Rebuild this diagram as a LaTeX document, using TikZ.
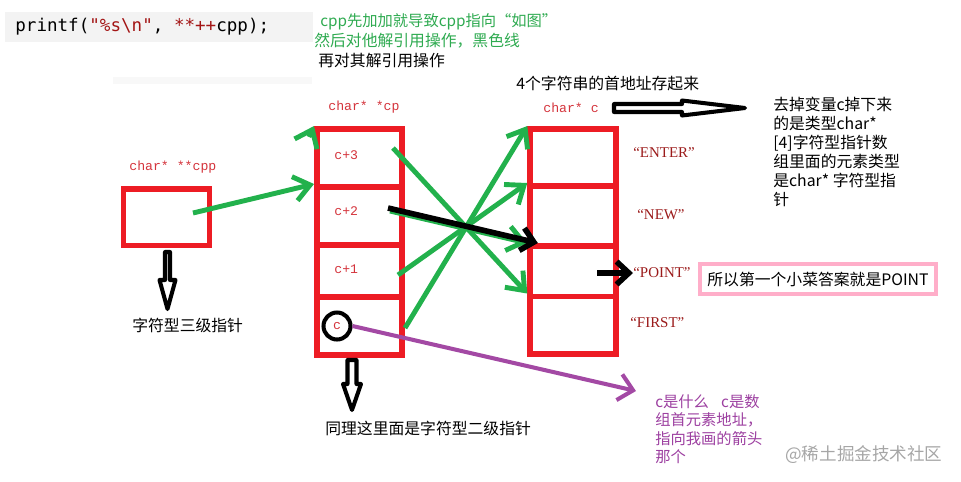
\documentclass[tikz,border=0pt]{standalone}
\usepackage{fontspec}
\usepackage{xcolor}
\usetikzlibrary{arrows.meta,fit}
\newfontfamily\cnfont{Noto Sans CJK SC}
\newfontfamily\lblfont{Liberation Mono}
\newfontfamily\codefont{DejaVu Sans Mono}
\newfontfamily\strfont{Liberation Serif}
\definecolor{boxred}{HTML}{ED1C24}
\definecolor{lblred}{HTML}{D4343C}
\definecolor{strred}{HTML}{9B1B1B}
\definecolor{codered}{HTML}{A31515}
\definecolor{paintgreen}{HTML}{22B14C}
\definecolor{notegreen}{HTML}{2EAA50}
\definecolor{paintpurple}{HTML}{A349A4}
\definecolor{notepurple}{HTML}{9C3FA0}
\definecolor{answerpink}{HTML}{FFAEC9}
\definecolor{codegray}{HTML}{F3F3F3}
\definecolor{fadegray}{HTML}{F8F8F8}
\definecolor{markgray}{HTML}{A6A6A6}

\begin{document}
\begin{tikzpicture}[x=0.02cm, y=-0.02cm,
    cell/.style={draw=boxred, line width=3.4pt, inner sep=0pt},
    lbl/.style={text=lblred, font=\lblfont\fontsize{7.5}{9}\selectfont, inner sep=0pt, anchor=west},
    strlbl/.style={text=strred, font=\strfont\fontsize{8.5}{10}\selectfont, inner sep=0pt, anchor=west},
    note/.style={font=\cnfont\fontsize{9}{10.8}\selectfont, inner sep=0pt, anchor=west},
    garrow/.style={draw=paintgreen, line width=2.8pt, -{Straight Barb[length=9pt,width=14pt]}},
    karrow/.style={draw=black, line width=3.2pt, -{Straight Barb[length=7pt,width=13pt]}},
    parrow/.style={draw=paintpurple, line width=2.3pt, -{Straight Barb[length=8pt,width=15pt]}},
    hollow/.style={draw=black, line width=2.3pt, fill=white, line join=round}]
    \useasboundingbox (0,0) rectangle (961,481);

    % code line
    \fill[codegray] (5,12) rectangle (313,42);
    \fill[fadegray] (113,77) rectangle (312,84);
    \node[anchor=west, inner sep=0pt, font=\codefont\fontsize{10}{12}\selectfont] (code) at (15,27)
        {printf(\textcolor{codered}{"\%s\textbackslash n"}, \textcolor{codered}{**++}cpp);};

    % notes at the top
    \node[note, text=notegreen, font=\cnfont\fontsize{8.7}{10.5}\selectfont] (gt1) at (320,22) {cpp先加加就导致cpp指向“如图”};
    \node[note, text=notegreen] (gt2) at (314,41) {然后对他解引用操作，黑色线};
    \node[note] (bt3) at (318,61) {再对其解引用操作};
    \node[note] (addr) at (516,83) {4个字符串的首地址存起来};
    \node[note, anchor=north west, align=left] (typenote) at (773,97)
        {去掉变量c掉下来\\的是类型char*\\{}[4]字符型指针数\\组里面的元素类型\\是char* 字符型指\\针};

    % char** cpp
    \node[lbl] (cpplbl) at (129,167) {char* **cpp};
    \node[cell, fit={(123.5,189) (209.5,245.5)}] (cpp) {};
    \node[note] (cppnote) at (132,325) {字符型三级指针};
    \draw[hollow] (165,252) -- (165,280) -- (159.5,280) -- (167.5,309) -- (175.5,280)
        -- (170,280) -- (170,252) -- cycle;

    % char* *cp
    \node[lbl] (cplbl) at (328,107) {char* *cp};
    \foreach \i/\ya/\yb in {0/129/187, 1/187/245, 2/245/296.7, 3/296.7/355}
        \node[cell, fit={(317,\ya) (401.7,\yb)}] (cp\i) {};
    \node[lbl] (cp3txt) at (334,155) {c+3};
    \node[lbl] (cp2txt) at (334,211) {c+2};
    \node[lbl] (cp1txt) at (334,269) {c+1};
    \node[lbl, anchor=center, circle, draw=black, text=lblred, line width=2.3pt, minimum size=0.54cm] (cc) at (337,326) {c};
    \node[note] (cpnote) at (325,428) {同理这里面是字符型二级指针};
    \draw[hollow] (347.5,360) -- (347.5,384) -- (343,384) -- (352,410) -- (361,384)
        -- (356.5,384) -- (356.5,360) -- cycle;

    % char* c[4]
    \node[lbl] (clbl) at (543,108) {char* c};
    \draw[hollow] (614,104) -- (682,104) -- (682,100.5) -- (745,108) -- (682,115.5)
        -- (682,112) -- (614,112) -- cycle;
    \foreach \i/\ya/\yb in {0/129/186, 1/186/246, 2/246/296.5, 3/296.5/354}
        \node[cell, fit={(530.3,\ya) (616,\yb)}] (c\i) {};
    \node[strlbl] (senter) at (633,153) {“ENTER”};
    \node[strlbl] (snew) at (637,215) {“NEW”};
    \node[strlbl] (spoint) at (633,273) {“POINT”};
    \node[strlbl] (sfirst) at (630,323) {“FIRST”};

    % answer
    \node[draw=answerpink, line width=2.3pt, minimum width=4.72cm, minimum height=0.6cm,
        inner sep=0pt, font=\cnfont\fontsize{9}{10.8}\selectfont] (ans) at (818,279) {所以第一个小菜答案就是POINT};

    % pointers
    \coordinate (g0) at (309,137);
    \coordinate (p0) at (193,213);
    \coordinate (s3) at (393,148);
    \coordinate (s2) at (390,211);
    \coordinate (k2) at (388,208);
    \coordinate (s1) at (398,275);
    \coordinate (s0) at (405,328);
    \coordinate (pt0) at (597,273);
    \coordinate (pend) at (636,391);

    \draw[garrow] (g0) -- (cp0.north west);
    \draw[garrow] (p0) -- (cp1.north west);
    \draw[garrow] (s3) -- (c3.north west);
    \draw[garrow] (s2) -- (c2.north west);
    \draw[garrow] (s1) -- (c1.north west);
    \draw[garrow] (s0) -- (c0.north west);
    \draw[karrow] (k2) -- ([xshift=6]c2.north west);
    \draw[karrow] (pt0) -- (spoint.west);
    \draw[parrow] (cc.east) -- (pend);

    % c note
    \node[note, anchor=north west, align=left, text=notepurple, font=\cnfont\fontsize{8.7}{10.5}\selectfont] (cnote) at (655,394)
        {c是什么\hspace{0.8em}c是数\\组首元素地址，\\指向我画的箭头\\那个};
    \node[note, text=markgray, font=\cnfont\fontsize{10}{12}\selectfont] (mark) at (785,455) {@稀土掘金技术社区};
\end{tikzpicture}
\end{document}
